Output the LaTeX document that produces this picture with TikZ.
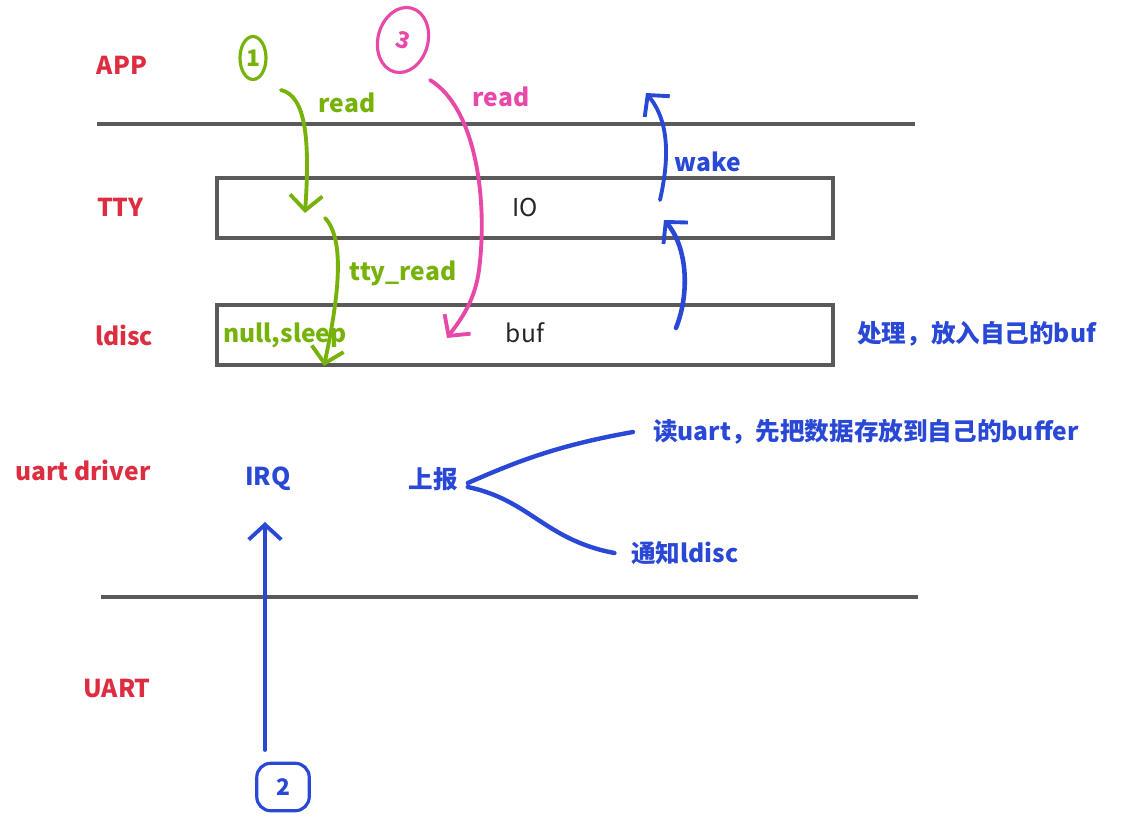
\documentclass[tikz,border=0pt]{standalone}
\usepackage{fontspec}
\setmainfont{Noto Sans CJK SC}
\usetikzlibrary{arrows.meta,shapes.geometric}
\definecolor{layerred}{RGB}{220,45,65}
\definecolor{pengreen}{RGB}{118,178,10}
\definecolor{penpink}{RGB}{232,72,168}
\definecolor{penblue}{RGB}{42,72,214}
\definecolor{linegray}{RGB}{90,90,90}
\tikzset{
  layerlabel/.style={
    text=layerred,
    font=\fontsize{14}{16}\selectfont\bfseries
  },
  layerbox/.style={
    rectangle,
    draw=linegray,
    line width=1.8pt,
    minimum width=12.32cm,
    minimum height=1.2cm,
    font=\fontsize{14}{16}\selectfont,
    text=black!85
  },
  layerline/.style={
    draw=linegray,
    line width=2.2pt
  },
  penlabel/.style={
    font=\fontsize{14}{16}\selectfont\bfseries
  },
  penarrow/.style={
    line width=2.2pt,
    line cap=round,
    line join=round,
    -{Straight Barb[length=3mm, width=6.5mm, line width=2.2pt]}
  },
  penmark/.style={
    line width=1.8pt,
    inner sep=1pt,
    font=\fontsize{13}{15}\selectfont\bfseries
  }
}

\begin{document}
\begin{tikzpicture}[x=0.02cm, y=-0.02cm]
\useasboundingbox (0,0) rectangle (1140,818);

% layer names
\node[layerlabel] (app) at (122,65) {APP};
\node[layerlabel] (tty) at (120,207) {TTY};
\node[layerlabel] (ldisc) at (124,335) {ldisc};
\node[layerlabel] (drv) at (83,470) {uart driver};
\node[layerlabel] (uart) at (117,689) {UART};

% separators and boxes
\coordinate (topl) at (97,124);
\coordinate (topr) at (915,124);
\coordinate (botl) at (101,597);
\coordinate (botr) at (918,597);
\draw[layerline] (topl) -- (topr);
\draw[layerline] (botl) -- (botr);
\node[layerbox] (iobox) at (525,208) {};
\node[layerbox] (bufbox) at (525,335) {};
\node[font=\fontsize{14}{16}\selectfont, text=black!85] (io) at (525,207) {IO};
\node[font=\fontsize{14}{16}\selectfont, text=black!85] (buf) at (525,333) {buf};

% step marks
\node[penmark, ellipse, draw=pengreen, text=pengreen, minimum width=0.52cm, minimum height=0.86cm] (one) at (253,58) {1};
\node[penmark, ellipse, draw=penpink, text=penpink, minimum width=1.0cm, minimum height=1.32cm, rotate=-15] (three) at (403,40) {3};
\node[penmark, rectangle, rounded corners=8pt, draw=penblue, text=penblue, minimum width=1.05cm, minimum height=0.95cm] (two) at (283,787) {2};

% step 1: app reads, tty reads ldisc
\coordinate (g1s) at (281,90);
\coordinate (g1e) at (305,213);
\coordinate (g2s) at (325,218);
\coordinate (g2e) at (324,366);
\draw[penarrow, pengreen] (g1s) .. controls (306,96) and (310,140) .. (g1e);
\draw[penarrow, pengreen] (g2s) .. controls (346,240) and (338,300) .. (g2e);
\node[penlabel, text=pengreen] (read1) at (347,103) {read};
\node[penlabel, text=pengreen] (ttyread) at (403,273) {tty\_read};
\node[penlabel, text=pengreen] (sleep) at (285,335) {null,sleep};

% step 3: read again from buf
\coordinate (p1s) at (430,80);
\coordinate (p1m) at (479,270);
\coordinate (p1e) at (447,338);
\draw[penarrow, penpink] (p1s) .. controls (476,108) and (488,200) .. (p1m) .. controls (475,300) and (462,318) .. (p1e);
\node[penlabel, text=penpink] (read3) at (501,97) {read};

% step 2: interrupt path
\coordinate (irqs) at (265,750);
\coordinate (irqe) at (265,522);
\draw[penarrow, penblue] (irqs) -- (irqe);
\node[penlabel, text=penblue] (irq) at (268,479) {IRQ};
\node[penlabel, text=penblue] (report) at (433,479) {上报};
\node[penlabel, text=penblue, anchor=west] (readuart) at (647,432) {读uart，先把数据存放到自己的buffer};
\node[penlabel, text=penblue, anchor=west] (notify) at (625,553) {通知ldisc};
\node[penlabel, text=penblue, anchor=west] (handle) at (851,334) {处理，放入自己的buf};
\draw[penblue, line width=2.5pt, line cap=round] (report.east) ++(4,4) .. controls (520,460) and (560,445) .. ([xshift=-8pt]readuart.west);
\draw[penblue, line width=2.5pt, line cap=round] (report.east) ++(4,8) .. controls (530,500) and (545,540) .. ([xshift=-6pt]notify.west);

% wake up the reader
\coordinate (b1s) at (676,328);
\coordinate (b1e) at (664,220);
\coordinate (b2s) at (660,200);
\coordinate (b2e) at (646,93);
\draw[penarrow, penblue, line width=2.6pt] (b1s) .. controls (691,290) and (686,245) .. (b1e);
\draw[penarrow, penblue] (b2s) .. controls (669,160) and (670,122) .. (b2e);
\node[penlabel, text=penblue] (wake) at (708,162) {wake};
\end{tikzpicture}
\end{document}
